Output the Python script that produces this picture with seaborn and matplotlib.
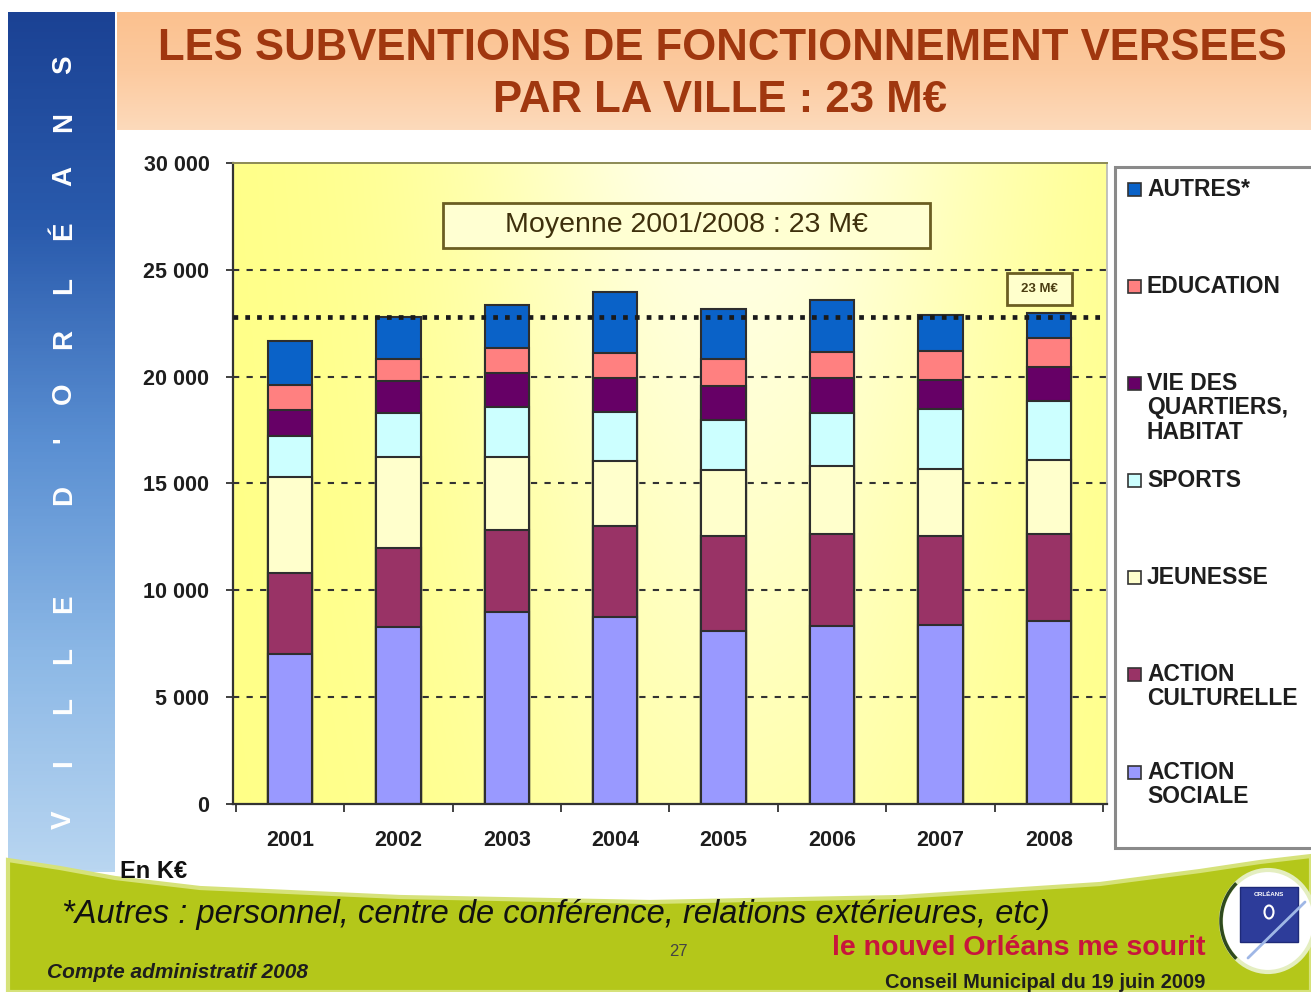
import numpy as np
import pandas as pd
import matplotlib
matplotlib.use('Agg')
import matplotlib.pyplot as plt
import matplotlib.patches as mpatches
from matplotlib.colors import LinearSegmentedColormap, to_rgb
import seaborn as sns

# ---------------- data (k€) ----------------
years = ['2001', '2002', '2003', '2004', '2005', '2006', '2007', '2008']
action_sociale = [7020, 8270, 8990, 8750, 8100, 8350, 8380, 8550]
action_culturelle = [3780, 3710, 3840, 4280, 4440, 4280, 4160, 4070]
jeunesse = [4520, 4250, 3420, 3030, 3100, 3180, 3150, 3470]
sports = [1900, 2050, 2340, 2290, 2340, 2470, 2780, 2780]
vie_quartiers = [1240, 1530, 1580, 1580, 1580, 1650, 1370, 1580]
education = [1130, 1020, 1160, 1160, 1260, 1210, 1370, 1340]
autres = [2070, 1970, 2020, 2870, 2370, 2470, 1660, 1210]
moyenne = 22800
y_ticks = [0, 5000, 10000, 15000, 20000, 25000, 30000]

series = [action_sociale, action_culturelle, jeunesse, sports,
          vie_quartiers, education, autres]
colors = ['#9999FF', '#993366', '#FFFFCC', '#CCFFFF', '#660066', '#FF8080', '#0A62C8']
legend_labels = ['AUTRES*', 'EDUCATION', 'VIE DES\nQUARTIERS,\nHABITAT', 'SPORTS',
                 'JEUNESSE', 'ACTION\nCULTURELLE', 'ACTION\nSOCIALE']
legend_colors = colors[::-1]

sns.set_style('white')
plt.rcParams['font.family'] = ['Liberation Sans', 'DejaVu Sans']

W, H = 1311, 992
fig = plt.figure(figsize=(W / 100, H / 100), dpi=100)
fig.patch.set_facecolor('white')

# ---------------- background decorations (pixel coords) ----------------
bg = fig.add_axes([0, 0, 1, 1], zorder=-5)
side_cmap = LinearSegmentedColormap.from_list(
    'side', ['#1B4294', '#2A5BAD', '#5A8FD2', '#8CB8E6', '#B9D6F1'])
bg.imshow(np.linspace(0, 1, 256).reshape(-1, 1), cmap=side_cmap, aspect='auto',
          extent=(8, 115, 872, 12), origin='upper', zorder=1)
title_cmap = LinearSegmentedColormap.from_list('title', ['#FBC18F', '#FCCA9F', '#FDDABB'])
bg.imshow(np.linspace(0, 1, 64).reshape(-1, 1), cmap=title_cmap, aspect='auto',
          extent=(117, 1311, 130, 12), origin='upper', zorder=1)
curve_x = [8, 60, 115, 200, 400, 650, 900, 1100, 1200, 1260, 1311]
curve_y = [860, 868, 878, 888, 897, 902, 897, 884, 871, 862, 856]
green_poly = list(zip(curve_x, curve_y)) + [(1311, 992), (8, 992)]
bg.add_patch(mpatches.Polygon(green_poly, closed=True, facecolor='#B4C71A',
                              edgecolor='#D6E27A', linewidth=3, zorder=2))
bg.set_xlim(0, W)
bg.set_ylim(H, 0)
bg.axis('off')

# ---------------- main chart ----------------
ax = fig.add_axes([233 / W, 1 - 804 / H, 874 / W, 641 / H], zorder=0)

# plot-area gradient
gx = np.linspace(0, 1, 300)
gy = np.linspace(0, 1, 200)
GX, GY = np.meshgrid(gx, gy)
wgt = np.exp(-((GX - 0.58) / 0.32) ** 2) * (0.4 + 0.55 * GY)
yellow = np.array(to_rgb('#FFFF86'))
pale = np.array(to_rgb('#FFFFF0'))
grad = yellow[None, None, :] * (1 - wgt[..., None]) + pale[None, None, :] * wgt[..., None]
ax.imshow(grad, extent=(0, 1, 0, 1), transform=ax.transAxes, origin='lower',
          aspect='auto', zorder=0)

for t in y_ticks[1:-1]:
    ax.axhline(t, color='#333333', linestyle=(0, (3, 3.5)), linewidth=1.5, zorder=1)

cum = np.cumsum(np.array(series), axis=0)
for i in reversed(range(len(series))):
    sns.barplot(x=years, y=cum[i], color=colors[i], saturation=1, width=0.41,
                edgecolor='#2E2E2E', linewidth=1.5, errorbar=None, ax=ax, zorder=2)

ax.axhline(moyenne, color='#1A1A1A', linestyle=(0, (1, 1.5)), linewidth=3.4, zorder=4)

ax.set_xlim(-0.526, 7.537)
ax.set_ylim(0, 30000)
ax.set_yticks(y_ticks)
ax.set_yticklabels([f'{v:,}'.replace(',', ' ') for v in y_ticks])
ax.set_xticks(np.arange(-0.5, len(years), 1), minor=True)
ax.tick_params(axis='y', which='major', length=5, width=1.3, color='#333333',
               pad=12, labelsize=15.5, labelcolor='#1E1E1E', direction='out', left=True)
ax.tick_params(axis='x', which='major', length=0, pad=19, labelsize=15.5,
               labelcolor='#1E1E1E')
ax.tick_params(axis='x', which='minor', length=6, width=1.3, color='#333333',
               direction='out', bottom=True)
for lab in ax.get_yticklabels() + ax.get_xticklabels():
    lab.set_fontweight('bold')
ax.set_xlabel('')
ax.set_ylabel('')
for s in ['left', 'bottom']:
    ax.spines[s].set_color('#333333')
    ax.spines[s].set_linewidth(1.6)
ax.spines['top'].set_color('#8C8A55')
ax.spines['top'].set_linewidth(1.4)
ax.spines['right'].set_color('#B8B8B8')
ax.spines['right'].set_linewidth(1.2)

# ---------------- overlay (pixel coords) ----------------
ov = fig.add_axes([0, 0, 1, 1], zorder=5)
ov.patch.set_alpha(0)
ov.set_xlim(0, W)
ov.set_ylim(H, 0)
ov.axis('off')

# sidebar letters
letters = ['S', 'N', 'A', 'É', 'L', 'R', 'O', "'", 'D', 'E', 'L', 'L', 'I', 'V']
letter_y = [65, 122, 176, 231, 285, 339, 393, 440, 495, 604, 655, 706, 763, 820]
for ch, ly in zip(letters, letter_y):
    ov.text(64, ly, ch, rotation=90, ha='center', va='center', color='white',
            fontsize=20, fontweight='bold')

# title
ov.text(722, 48, 'LES SUBVENTIONS DE FONCTIONNEMENT VERSEES', ha='center', va='center',
        fontsize=31.5, fontweight='bold', color='#A0370F')
ov.text(720, 100, 'PAR LA VILLE : 23 M€', ha='center', va='center',
        fontsize=31.5, fontweight='bold', color='#A0370F')

# average boxes
ov.add_patch(mpatches.Rectangle((443, 203), 487, 45, facecolor='#FFFFD2',
                                edgecolor='#6B5E22', linewidth=2))
ov.text(686, 225, 'Moyenne 2001/2008 : 23 M€', ha='center', va='center',
        fontsize=20.5, color='#3E300C')
ov.add_patch(mpatches.Rectangle((1007, 273), 65, 32, facecolor='#FFFFCC',
                                edgecolor='#6B5E22', linewidth=2))
ov.text(1039.5, 289, '23 M€', ha='center', va='center', fontsize=9.5,
        fontweight='bold', color='#4B3D12')

# legend
ov.add_patch(mpatches.Rectangle((1115, 167), 200, 681, facecolor='white',
                                edgecolor='#8A8A8A', linewidth=2.2))
leg_y = [190, 287, 384, 481, 578, 675, 773]
for lab, col, ly in zip(legend_labels, legend_colors, leg_y):
    ov.add_patch(mpatches.Rectangle((1128, ly - 7), 13, 13, facecolor=col,
                                    edgecolor='#333333', linewidth=1.2))
    ov.text(1147, ly - 12, lab, ha='left', va='top', fontsize=16.5, fontweight='bold',
            color='#1E1E1E', linespacing=1.08)

# bottom texts
ov.text(120, 872, 'En K€', ha='left', va='center', fontsize=17, fontweight='bold',
        color='#111111')
ov.text(62, 915, '*Autres : personnel, centre de conférence, relations extérieures, etc)',
        ha='left', va='center', fontsize=23.5, style='italic', color='#111111')
ov.text(678, 951, '27', ha='center', va='center', fontsize=12, color='#444444')
ov.text(1205, 948, 'le nouvel Orléans me sourit', ha='right', va='center',
        fontsize=20.5, fontweight='bold', color='#C8163C')
ov.text(1205, 982, 'Conseil Municipal du 19 juin 2009', ha='right', va='center',
        fontsize=14.5, fontweight='bold', color='#1E1E1E')
ov.text(47, 972, 'Compte administratif 2008', ha='left', va='center', fontsize=15,
        fontweight='bold', style='italic', color='#1E1E1E')

# logo
ov.add_patch(mpatches.Ellipse((1268, 921), 94, 102, facecolor='white',
                              edgecolor='#E4EEC0', linewidth=3))
ov.add_patch(mpatches.Arc((1268, 921), 94, 102, theta1=130, theta2=230,
                          edgecolor='#2F4A1E', linewidth=2.5))
ov.add_patch(mpatches.Rectangle((1240, 887), 58, 55, facecolor='#2D3C9A',
                                edgecolor='#1E2A78', linewidth=1))
ov.text(1269, 894, 'ORLÉANS', ha='center', va='center', fontsize=4.5, color='white',
        fontweight='bold')
ov.add_patch(mpatches.Ellipse((1269, 912), 9, 13, facecolor='none', edgecolor='white',
                              linewidth=1.5))
ov.plot([1248, 1305], [958, 902], color='#9FB7E6', linewidth=2)

fig.savefig('out.png', dpi=100, facecolor='white')
